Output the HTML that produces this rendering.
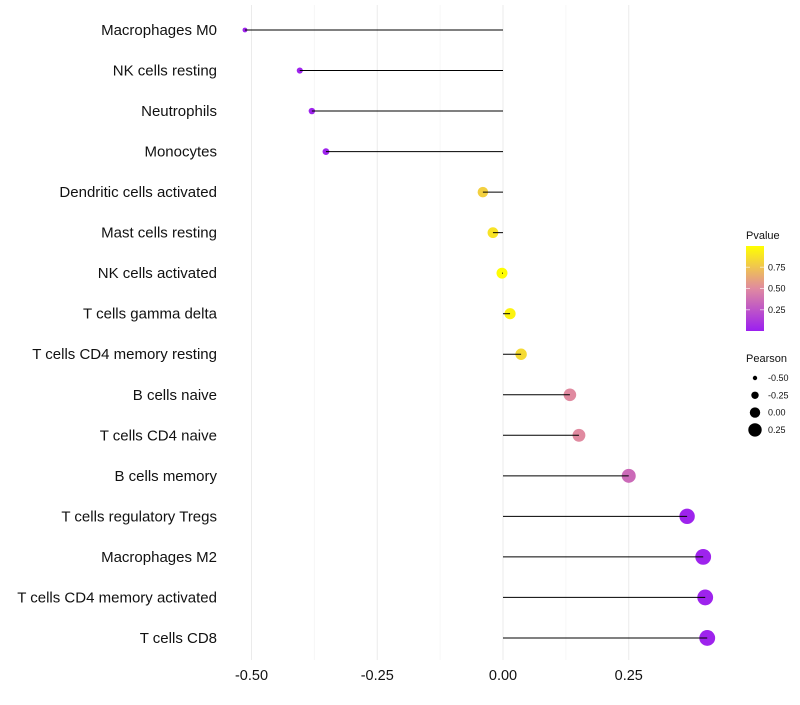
<!DOCTYPE html>
<html><head><meta charset="utf-8"><style>
body{margin:0;background:#fff;font-family:"Liberation Sans",sans-serif}
</style></head><body>
<svg id="chart" width="800" height="700" xmlns="http://www.w3.org/2000/svg" font-family="Liberation Sans, sans-serif"></svg>
<script>
const categories=["Macrophages M0","NK cells resting","Neutrophils","Monocytes","Dendritic cells activated","Mast cells resting","NK cells activated","T cells gamma delta","T cells CD4 memory resting","B cells naive","T cells CD4 naive","B cells memory","T cells regulatory  Tregs ","Macrophages M2","T cells CD4 memory activated","T cells CD8"];
const pearson=[-0.513,-0.404,-0.380,-0.352,-0.040,-0.020,-0.002,0.014,0.036,0.133,0.151,0.250,0.366,0.398,0.402,0.406];
const pvalues=[0.02,0.02,0.02,0.02,0.80,0.88,0.99,0.95,0.84,0.50,0.50,0.35,0.02,0.02,0.02,0.02];
const xTicks=[-0.5,-0.25,0,0.25];
const xTickLabels=["-0.50","-0.25","0.00","0.25"];
const pLegendTicks=[0.25,0.5,0.75];
const sizeLegend=[-0.5,-0.25,0,0.25];
const sizeLegendLabels=["-0.50","-0.25","0.00","0.25"];

const svg=document.getElementById('chart');
const NS='http://www.w3.org/2000/svg';
function el(t,a,p){const e=document.createElementNS(NS,t);for(const k in a)e.setAttribute(k,a[k]);(p||svg).appendChild(e);return e;}
const x=v=>503+v*503;
const y=i=>30+i*40.53;
const r=v=>5.5+6*v;
function hex(h){return [1,3,5].map(i=>parseInt(h.substr(i,2),16));}
const stops=[[0,hex('#9b1ff0')],[0.5,hex('#e08aa0')],[1,hex('#ffff00')]];
function col(p){let a=stops[0],b=stops[1];if(p>0.5){a=stops[1];b=stops[2];}const t=(p-a[0])/(b[0]-a[0]);const c=a[1].map((v,i)=>Math.round(v+(b[1][i]-v)*t));return `rgb(${c.join(',')})`;}

for(let i=0;i<xTicks.length-1;i++){const m=(xTicks[i]+xTicks[i+1])/2;
 const g=el('line',{x1:x(m),x2:x(m),y1:5,y2:660,stroke:'#f6f6f6','stroke-width':1});
 }
xTicks.forEach((t,i)=>{
 const g=el('line',{x1:x(t),x2:x(t),y1:5,y2:660,stroke:'#ebebeb','stroke-width':1});
 
 const tx=el('text',{x:x(t),y:680,'text-anchor':'middle','font-size':14.5,fill:'#111'});tx.textContent=xTickLabels[i];
 
});
categories.forEach((c,i)=>{
 const lab=el('text',{x:217,y:y(i)+5,'text-anchor':'end','font-size':15,fill:'#111','xml:space':'preserve'});lab.textContent=c;
 
 const pt=el('circle',{cx:x(pearson[i]),cy:y(i),r:r(pearson[i]),fill:col(pvalues[i])});
 
 const ln=el('line',{x1:x(0),x2:x(pearson[i]),y1:y(i),y2:y(i),stroke:'#000','stroke-width':1});
 
});
const defs=el('defs',{});
const lg=el('linearGradient',{id:'pg',x1:0,y1:1,x2:0,y2:0},defs);
for(let k=0;k<=10;k++)el('stop',{offset:k/10,'stop-color':col(k/10)},lg);
const pt=el('text',{x:746,y:239,'font-size':11,fill:'#111'});pt.textContent='Pvalue';

const bar=el('rect',{x:746,y:246,width:18,height:85,fill:'url(#pg)'});

const py=p=>331-p*85;
pLegendTicks.forEach(p=>{
 el('line',{x1:746,x2:750,y1:py(p),y2:py(p),stroke:'#fff','stroke-opacity':0.6});
 el('line',{x1:760,x2:764,y1:py(p),y2:py(p),stroke:'#fff','stroke-opacity':0.6});
 const t=el('text',{x:768,y:py(p)+3,'font-size':9,fill:'#111'});t.textContent=p.toFixed(2);
 
});
const st=el('text',{x:746,y:362,'font-size':11,fill:'#111'});st.textContent='Pearson';

sizeLegend.forEach((v,i)=>{
 const cy=378+i*17.3;
 const c=el('circle',{cx:755,cy:cy,r:r(v)-0.3,fill:'#000'});
 
 const t=el('text',{x:768,y:cy+3,'font-size':9,fill:'#111'});t.textContent=sizeLegendLabels[i];
 
});
</script>
</body></html>
